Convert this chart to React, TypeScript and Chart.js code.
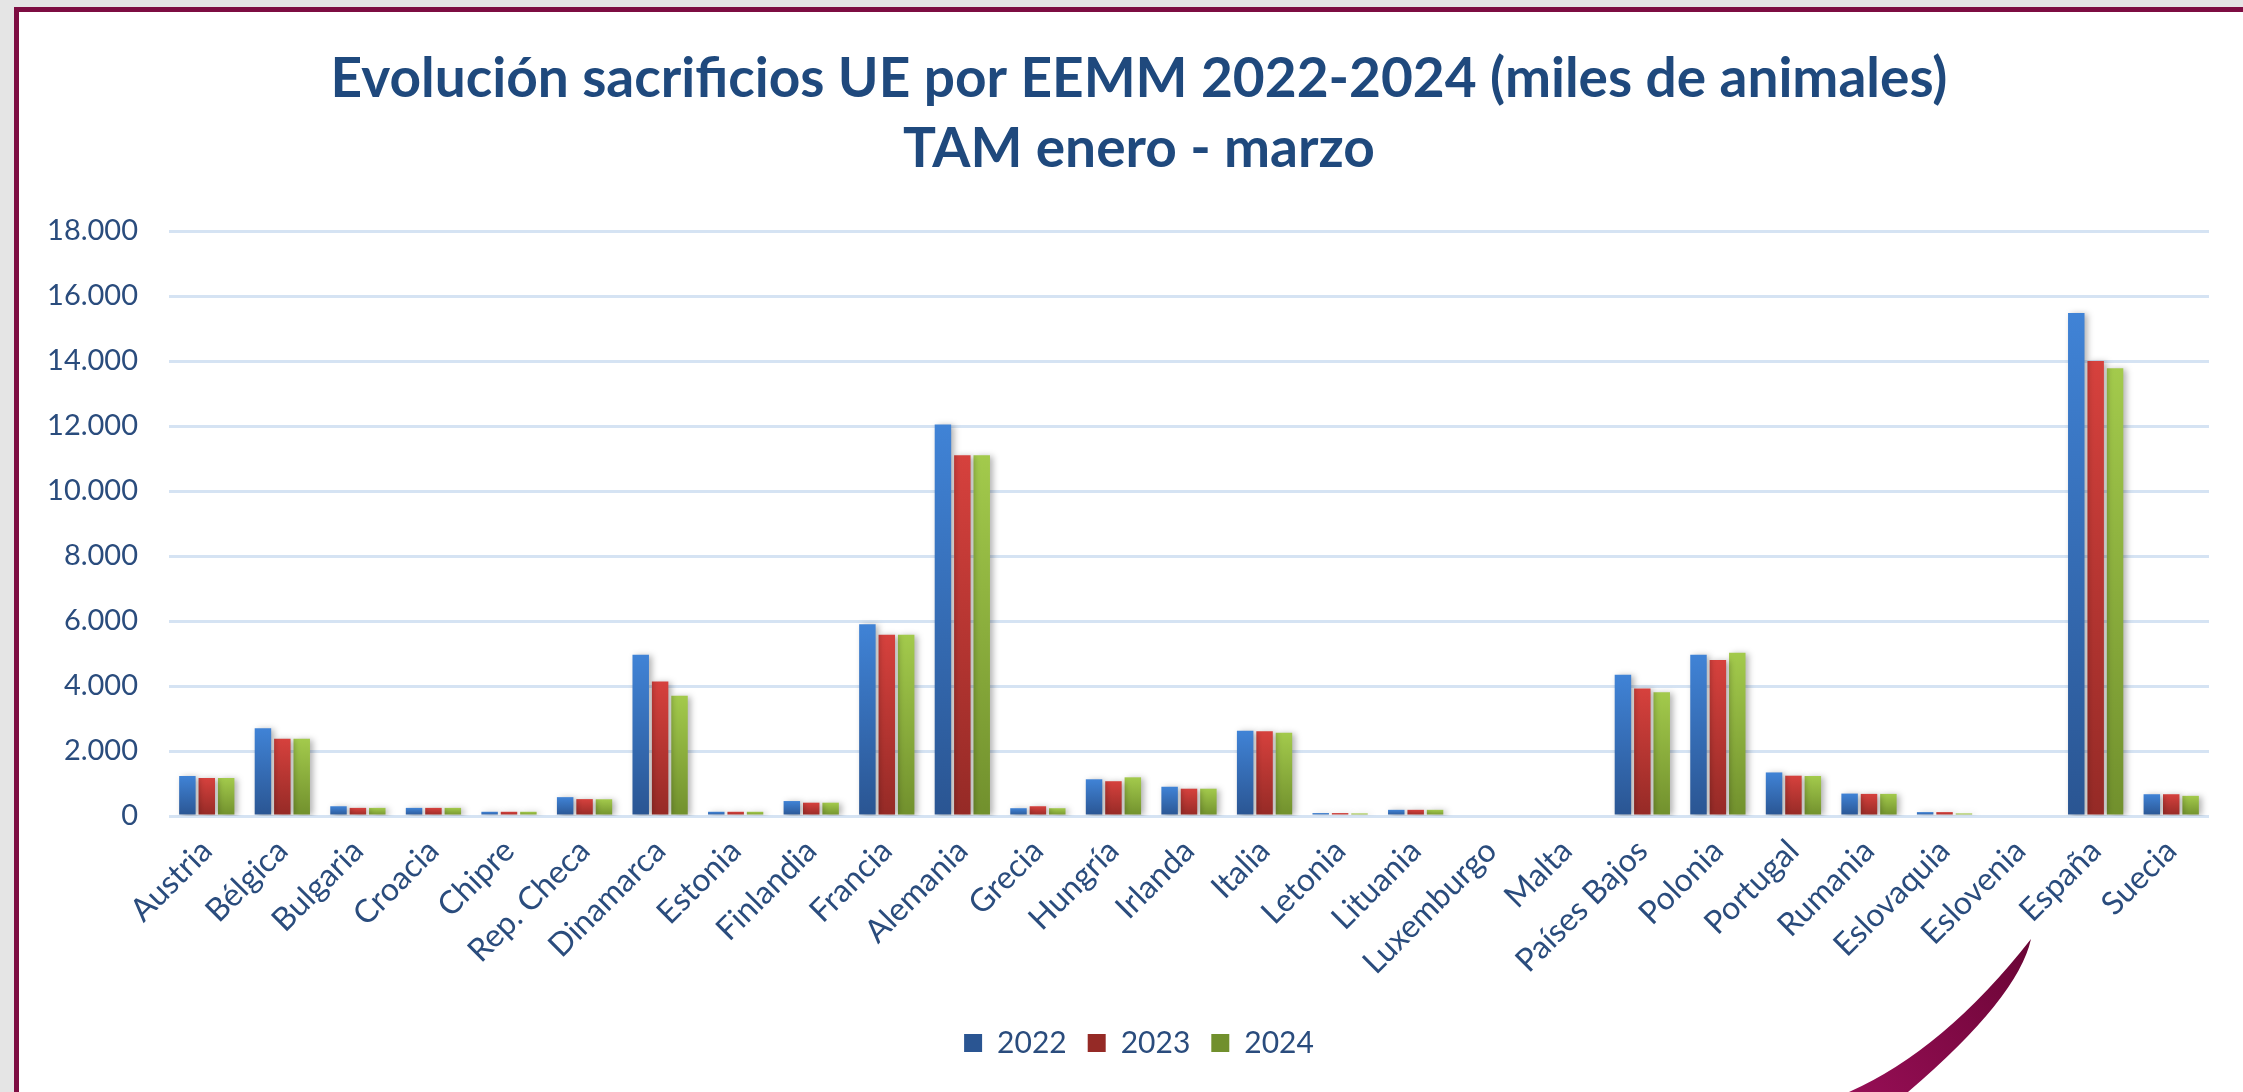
import React, { useEffect, useRef } from "react";
import { Chart, registerables } from "chart.js";

Chart.register(...registerables);

const countries = [
  "Austria", "Bélgica", "Bulgaria", "Croacia", "Chipre", "Rep. Checa", "Dinamarca",
  "Estonia", "Finlandia", "Francia", "Alemania", "Grecia", "Hungría", "Irlanda",
  "Italia", "Letonia", "Lituania", "Luxemburgo", "Malta", "Países Bajos", "Polonia",
  "Portugal", "Rumania", "Eslovaquia", "Eslovenia", "España", "Suecia",
];

const years = ["2022", "2023", "2024"];

const values2022 = [1230, 2700, 300, 250, 130, 580, 4960, 130, 460, 5900, 12050, 240, 1130, 900, 2620, 90, 190, 0, 0, 4350, 4960, 1340, 690, 120, 0, 15480, 670];
const values2023 = [1170, 2380, 250, 250, 130, 520, 4140, 130, 410, 5580, 11100, 300, 1070, 840, 2610, 90, 190, 0, 0, 3920, 4800, 1240, 680, 120, 0, 14000, 670];
const values2024 = [1170, 2380, 250, 250, 130, 515, 3700, 130, 410, 5580, 11100, 240, 1190, 840, 2560, 80, 190, 0, 0, 3810, 5020, 1230, 680, 80, 0, 13780, 620];

const yTicks = [0, 2000, 4000, 6000, 8000, 10000, 12000, 14000, 16000, 18000];

const titleLines = [
  "Evolución sacrificios UE por EEMM 2022-2024 (miles de animales)",
  "TAM enero - marzo",
];

const palette = [
  { top: "#4083d6", bottom: "#2a5592", solid: "#3670bd" },
  { top: "#d6413d", bottom: "#952a26", solid: "#c03935" },
  { top: "#a3ca4c", bottom: "#71902d", solid: "#8fb23f" },
];

const TEXT = "#2a4c7d";
const TITLE = "#1f497d";

function fmt(v: number) {
  return String(v).replace(/\B(?=(\d{3})+(?!\d))/g, ".");
}

function barFill(idx: number) {
  return (ctx: any) => {
    const p = palette[idx];
    const chart = ctx.chart;
    if (!chart.chartArea || ctx.type !== "data") return p.solid;
    const v = ctx.raw as number;
    const ys = chart.scales.y;
    if (!ys || !v) return p.solid;
    const y0 = ys.getPixelForValue(0);
    const y1 = ys.getPixelForValue(v);
    if (!isFinite(y0) || !isFinite(y1) || Math.abs(y0 - y1) < 1) return p.solid;
    const g = chart.ctx.createLinearGradient(0, y1, 0, y0);
    g.addColorStop(0, p.top);
    g.addColorStop(1, p.bottom);
    return g;
  };
}

const shadowPlugin = {
  id: "barShadow",
  beforeDatasetsDraw(chart: any) {
    const c = chart.ctx;
    c.save();
    c.shadowColor = "rgba(0,0,0,0.30)";
    c.shadowBlur = 6;
    c.shadowOffsetX = 3;
    c.shadowOffsetY = 1;
  },
  afterDatasetsDraw(chart: any) {
    chart.ctx.restore();
  },
};

export default function App() {
  const ref = useRef<HTMLCanvasElement | null>(null);

  useEffect(() => {
    if (!ref.current) return;
    const series = [values2022, values2023, values2024];
    const chart = new Chart(ref.current, {
      type: "bar",
      data: {
        labels: countries,
        datasets: series.map((d, i) => ({
          label: years[i],
          data: d,
          backgroundColor: barFill(i),
          borderWidth: 0,
          categoryPercentage: 0.77,
          barPercentage: 0.85,
          yAxisID: "y",
        })),
      },
      options: {
        animation: false,
        responsive: true,
        maintainAspectRatio: false,
        layout: { padding: { left: 16, right: 0, top: 0, bottom: 24 } },
        font: { family: "Lato" },
        plugins: {
          title: {
            display: true,
            text: titleLines,
            color: TITLE,
            font: { family: "Lato", size: 55, weight: "bold", lineHeight: 70 / 55 },
            padding: { top: 32, bottom: 47 },
          },
          legend: {
            position: "bottom",
            labels: {
              boxWidth: 18,
              boxHeight: 18,
              padding: 21,
              color: TEXT,
              font: { family: "Lato", size: 30 },
            },
          },
          tooltip: { enabled: false },
        },
        scales: {
          x: {
            offset: true,
            grid: { display: false },
            border: { display: false },
            ticks: {
              color: TEXT,
              font: { family: "Lato", size: 32 },
              autoSkip: false,
              maxRotation: 45,
              minRotation: 45,
              padding: 8,
            },
            afterFit: (s: any) => {
              s.height = 191;
            },
          },
          y: {
            min: 0,
            max: 18000,
            afterBuildTicks: (s: any) => {
              s.ticks = yTicks.map((v) => ({ value: v }));
            },
            grid: { color: "#d5e3f3", lineWidth: 3, drawTicks: false },
            border: { display: false },
            ticks: {
              color: TEXT,
              font: { family: "Lato", size: 29 },
              padding: 31,
              callback: (v: any) => fmt(Number(v)),
            },
            afterFit: (s: any) => {
              s.width = 134;
            },
          },
          yRight: {
            position: "right",
            display: true,
            grid: { display: false, drawTicks: false },
            border: { display: false },
            ticks: { display: false },
            afterFit: (s: any) => {
              s.width = 34;
            },
          },
        },
      },
      plugins: [shadowPlugin],
    });
    return () => chart.destroy();
  }, []);

  return (
    <div style={{ position: "fixed", inset: 0, background: "#e5e5e5", overflow: "hidden" }}>
      <div
        style={{
          position: "absolute",
          left: 14,
          top: 7,
          right: 0,
          bottom: 0,
          background: "#ffffff",
          borderLeft: "5px solid #7d0d42",
          borderTop: "5px solid #7d0d42",
        }}
      >
        <div style={{ position: "absolute", left: 0, top: 0, width: 2224, height: 1080 }}>
          <canvas ref={ref} />
        </div>
      </div>
      <svg
        width={2243}
        height={1092}
        style={{ position: "absolute", left: 0, top: 0, pointerEvents: "none" }}
      >
        <defs>
          <linearGradient id="sw" x1="1849" y1="1092" x2="2031" y2="940" gradientUnits="userSpaceOnUse">
            <stop offset="0" stopColor="#960e55" />
            <stop offset="1" stopColor="#6a0535" />
          </linearGradient>
        </defs>
        <path d="M 2031 939 Q 1944 1050 1849 1092 L 1908 1092 Q 2018 998 2031 939 Z" fill="url(#sw)" />
      </svg>
    </div>
  );
}
